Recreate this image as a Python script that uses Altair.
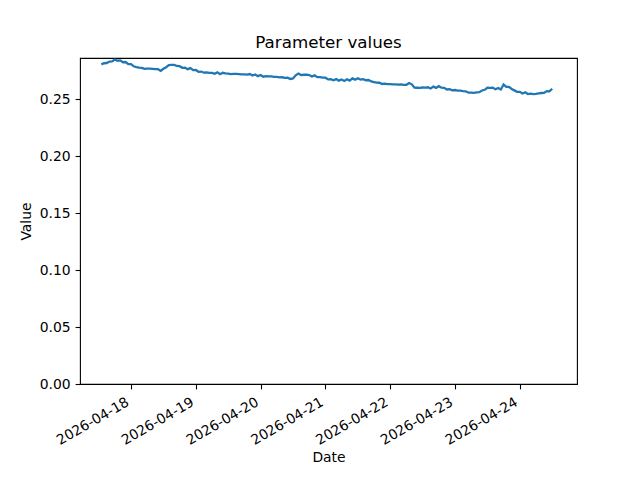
import altair as alt
import pandas as pd

start_time = "2026-04-17 13:00"
n_hours = 168

values = [
    0.2804, 0.2814, 0.2816, 0.2829, 0.2830, 0.2847, 0.2836, 0.2839, 0.2823, 0.2825, 0.2807, 0.2806,
    0.2787, 0.2781, 0.2776, 0.2773, 0.2765, 0.2767, 0.2766, 0.2765, 0.2762, 0.2762, 0.2747, 0.2765,
    0.2779, 0.2798, 0.2799, 0.2799, 0.2790, 0.2788, 0.2774, 0.2775, 0.2762, 0.2771, 0.2754, 0.2755,
    0.2739, 0.2741, 0.2731, 0.2733, 0.2730, 0.2729, 0.2721, 0.2734, 0.2718, 0.2730, 0.2725, 0.2723,
    0.2718, 0.2721, 0.2720, 0.2719, 0.2716, 0.2716, 0.2714, 0.2719, 0.2706, 0.2715, 0.2701, 0.2711,
    0.2696, 0.2701, 0.2698, 0.2698, 0.2694, 0.2695, 0.2690, 0.2691, 0.2686, 0.2688, 0.2676, 0.2681,
    0.2708, 0.2723, 0.2710, 0.2713, 0.2714, 0.2710, 0.2698, 0.2708, 0.2692, 0.2693, 0.2688, 0.2687,
    0.2672, 0.2675, 0.2664, 0.2675, 0.2661, 0.2671, 0.2659, 0.2673, 0.2662, 0.2681, 0.2670, 0.2683,
    0.2671, 0.2675, 0.2665, 0.2667, 0.2654, 0.2649, 0.2644, 0.2643, 0.2632, 0.2635, 0.2631, 0.2631,
    0.2628, 0.2629, 0.2626, 0.2628, 0.2624, 0.2625, 0.2640, 0.2629, 0.2600, 0.2599, 0.2598, 0.2601,
    0.2600, 0.2603, 0.2592, 0.2609, 0.2598, 0.2613, 0.2600, 0.2598, 0.2584, 0.2587, 0.2576, 0.2579,
    0.2574, 0.2573, 0.2570, 0.2568, 0.2556, 0.2556, 0.2554, 0.2559, 0.2560, 0.2575, 0.2581, 0.2599,
    0.2598, 0.2599, 0.2586, 0.2597, 0.2584, 0.2627, 0.2606, 0.2607, 0.2588, 0.2576, 0.2564, 0.2563,
    0.2549, 0.2559, 0.2544, 0.2547, 0.2543, 0.2545, 0.2549, 0.2553, 0.2554, 0.2570, 0.2568, 0.2590,
]

tick_days = [18, 19, 20, 21, 22, 23, 24]
y_ticks = [0.0, 0.05, 0.10, 0.15, 0.20, 0.25]

df = pd.DataFrame({
    "Date": pd.date_range(start_time, periods=n_hours, freq="h"),
    "Value": values,
})

FONT = "DejaVu Sans"
W, H = 497, 326

chart = (
    alt.Chart(df)
    .mark_line(color="#1f77b4", strokeWidth=2.3)
    .encode(
        x=alt.X(
            "Date:T",
            scale=alt.Scale(
                domain=[
                    alt.DateTime(year=2026, month=4, date=17, hours=5, minutes=6),
                    alt.DateTime(year=2026, month=4, date=24, hours=21, minutes=12),
                ],
                nice=False,
            ),
            axis=alt.Axis(
                values=[alt.DateTime(year=2026, month=4, date=d) for d in tick_days],
                format="%Y-%m-%d",
                labelAngle=330,
                labelAlign="right",
                labelBaseline="top",
                labelOverlap=False,
                labelOffset=-7,
                labelPadding=6,
                title="Date",
                titleX=W / 2,
                titleY=73,
                titleAlign="center",
                titleBaseline="middle",
            ),
        ),
        y=alt.Y(
            "Value:Q",
            scale=alt.Scale(domain=[0, 0.286], nice=False, zero=True),
            axis=alt.Axis(
                values=y_ticks,
                format=".2f",
                labelOverlap=False,
                title="Value",
                titleX=-54,
                titleY=H / 2,
                titleAngle=270,
                titleAlign="center",
                titleBaseline="middle",
            ),
        ),
    )
    .properties(
        width=W,
        height=H,
        title=alt.TitleParams(
            "Parameter values",
            fontSize=16.7,
            fontWeight="normal",
            font=FONT,
            color="black",
            anchor="middle",
            frame="group",
            offset=-10,
            baseline="alphabetic",
        ),
        autosize=alt.AutoSizeParams(type="none"),
        padding={"left": 72, "top": 50, "right": 55, "bottom": 80},
    )
    .configure(background="white")
    .configure_view(stroke="black", strokeWidth=1.1)
    .configure_axis(
        grid=False,
        domain=False,
        tickColor="black",
        tickWidth=1.1,
        tickSize=4.9,
        labelPadding=4.9,
        labelFont=FONT,
        labelFontSize=13.9,
        labelColor="black",
        titleFont=FONT,
        titleFontSize=13.9,
        titleFontWeight="normal",
        titleColor="black",
    )
)

chart.save("out.html", embed_options={"renderer": "svg", "actions": False})
